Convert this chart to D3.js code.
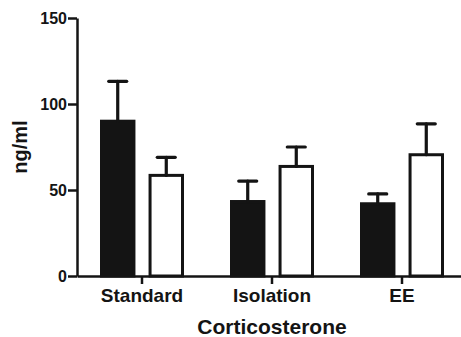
<!DOCTYPE html>
<html>
<head>
<meta charset="utf-8">
<script src="https://cdn.jsdelivr.net/npm/d3@7"></script>
<style>
  body { margin: 0; background: #fff; }
  svg { display: block; font-family: "Liberation Sans", Arial, sans-serif; }
</style>
</head>
<body>
<div id="container"></div>
<script>
// chart data
const categories = ["Standard", "Isolation", "EE"];
const series = ["filled", "open"];
const means = {
  filled: [90, 43.3, 42],
  open: [58.5, 63.7, 70.5]
};
const errors = {
  filled: [23.2, 11.9, 5.7],
  open: [10.5, 11.3, 18]
};
const yTicks = [0, 50, 100, 150];

const width = 461;
const height = 337;
const marginLeft = 77;
const marginTop = 18;
const axisY = 276;
const ink = "#141414";

// x scale: one band per category
const x = d3.scaleBand()
    .domain(categories)
    .range([marginLeft, marginLeft + 390])
    .padding(0);

// inner scale for the two bars within a category
const xInner = d3.scaleBand()
    .domain(series)
    .range([23, 107])
    .paddingInner(0.27);

const y = d3.scaleLinear()
    .domain([0, 150])
    .range([axisY, marginTop]);

const svg = d3.create("svg")
    .attr("width", width)
    .attr("height", height)
    .attr("viewBox", [0, 0, width, height]);

const rows = [];
categories.forEach((c, i) => {
  series.forEach(s => rows.push({cat: c, s: s, v: means[s][i], e: errors[s][i]}));
});

// bars
svg.append("g")
  .selectAll("rect")
  .data(rows)
  .join("rect")
    .attr("x", d => x(d.cat) + xInner(d.s) + 1.5)
    .attr("y", d => y(d.v))
    .attr("width", xInner.bandwidth() - 3)
    .attr("height", d => y(0) - y(d.v))
    .attr("fill", d => d.s === "filled" ? ink : "#fff")
    .attr("stroke", ink)
    .attr("stroke-width", 3);

// error bars (upper only)
const err = svg.append("g")
    .attr("stroke", ink)
    .attr("stroke-width", 3.2)
    .attr("stroke-linecap", "round");

err.selectAll("line.v")
  .data(rows)
  .join("line")
    .attr("class", "v")
    .attr("x1", d => x(d.cat) + xInner(d.s) + xInner.bandwidth() / 2)
    .attr("x2", d => x(d.cat) + xInner(d.s) + xInner.bandwidth() / 2)
    .attr("y1", d => y(d.v))
    .attr("y2", d => y(d.v + d.e));

err.selectAll("line.cap")
  .data(rows)
  .join("line")
    .attr("class", "cap")
    .attr("x1", d => x(d.cat) + xInner(d.s) + xInner.bandwidth() / 2 - 9)
    .attr("x2", d => x(d.cat) + xInner(d.s) + xInner.bandwidth() / 2 + 9)
    .attr("y1", d => y(d.v + d.e))
    .attr("y2", d => y(d.v + d.e));

// x axis
svg.append("g")
    .attr("transform", `translate(0,${axisY})`)
    .call(d3.axisBottom(x).tickSize(8).tickSizeOuter(0).tickPadding(5))
    .call(g => g.selectAll("path, line").attr("stroke", ink).attr("stroke-width", 2.5))
    .call(g => g.selectAll("text")
        .attr("fill", ink)
        .attr("font-size", 19)
        .attr("font-weight", "bold")
        .attr("font-family", null));

// y axis
svg.append("g")
    .attr("transform", `translate(${marginLeft},0)`)
    .call(d3.axisLeft(y).tickValues(yTicks).tickSize(9).tickSizeOuter(0).tickPadding(1))
    .call(g => g.selectAll("path, line").attr("stroke", ink).attr("stroke-width", 2.5))
    .call(g => g.selectAll("text")
        .attr("fill", ink)
        .attr("font-size", 16)
        .attr("font-weight", "bold")
        .attr("font-family", null));

// axis titles
svg.append("text")
    .attr("x", marginLeft + 195)
    .attr("y", 334)
    .attr("text-anchor", "middle")
    .attr("fill", ink)
    .attr("font-size", 21)
    .attr("font-weight", "bold")
    .text("Corticosterone");

svg.append("text")
    .attr("transform", `translate(27,${(y(0) + y(150)) / 2}) rotate(-90)`)
    .attr("text-anchor", "middle")
    .attr("fill", ink)
    .attr("font-size", 20)
    .attr("font-weight", "bold")
    .text("ng/ml");

container.append(svg.node());
</script>
</body>
</html>
